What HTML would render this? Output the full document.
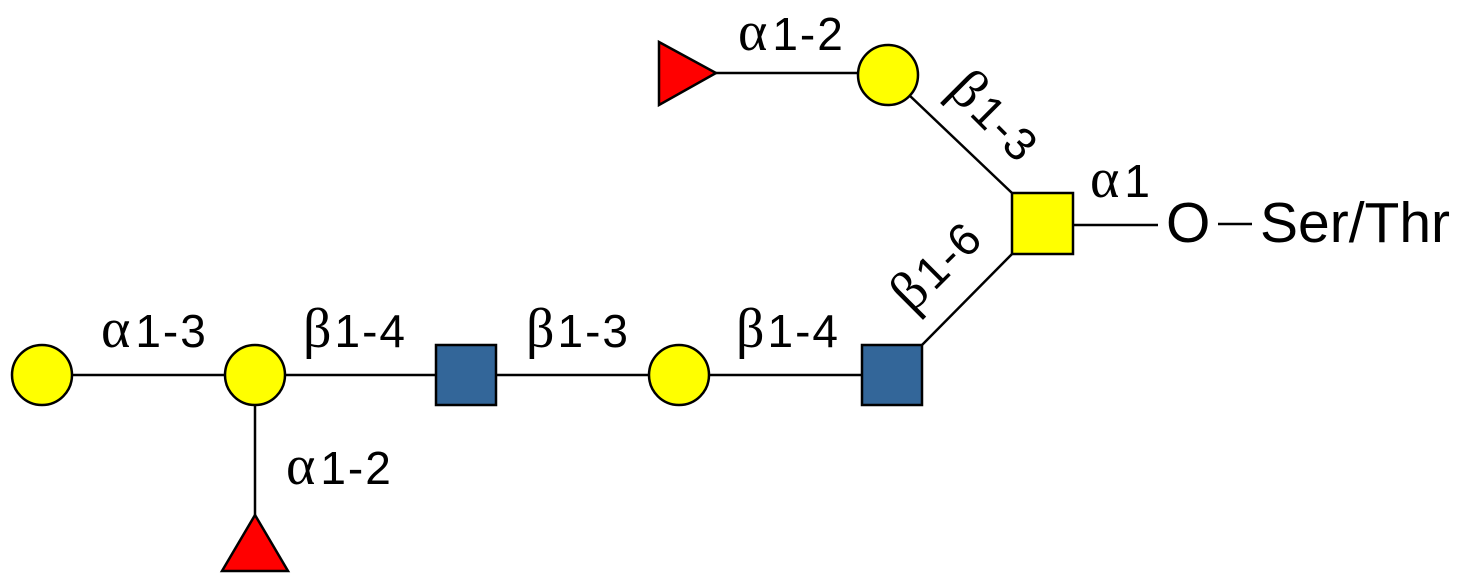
<!DOCTYPE html>
<html><head><meta charset="utf-8"><style>
html,body{margin:0;padding:0;background:#fff;}
svg{display:block;}
text{font-family:"Liberation Sans",sans-serif;font-size:46px;letter-spacing:2px;fill:#000;}
.g{font-family:"Liberation Serif","DejaVu Serif",serif;font-size:56px;letter-spacing:0;}
</style></head><body>
<svg width="1463" height="581" viewBox="0 0 1463 581" xmlns="http://www.w3.org/2000/svg">
<g stroke="#000" stroke-width="2.5" fill="none">
<line x1="42" y1="375" x2="436" y2="375"/>
<line x1="496" y1="375" x2="862" y2="375"/>
<line x1="255" y1="375" x2="255" y2="520"/>
<line x1="922" y1="345" x2="1012" y2="254"/>
<line x1="888" y1="75" x2="1012" y2="193"/>
<line x1="716" y1="73" x2="860" y2="73"/>
<line x1="1073" y1="225" x2="1158" y2="225"/>
<line x1="1218" y1="224" x2="1252" y2="224"/>
</g>
<g stroke="#000" stroke-width="2.5">
<circle cx="42" cy="375" r="30" fill="#ffff00"/>
<circle cx="255" cy="375" r="30" fill="#ffff00"/>
<circle cx="679" cy="375" r="30" fill="#ffff00"/>
<circle cx="888" cy="75" r="30" fill="#ffff00"/>
<rect x="436" y="345" width="60" height="60" fill="#336699"/>
<rect x="862" y="345" width="60" height="60" fill="#336699"/>
<rect x="1012" y="193" width="61" height="61" fill="#ffff00"/>
<polygon points="659,42 659,105 716,73" fill="#ff0000"/>
<polygon points="255,515 222,571 288,571" fill="#ff0000"/>
</g>
<text x="101" y="347"><tspan class="g">α</tspan><tspan dx="5">1-3</tspan></text>
<text x="303" y="347"><tspan class="g">β</tspan><tspan dx="3">1-4</tspan></text>
<text x="526" y="347"><tspan class="g">β</tspan><tspan dx="3">1-3</tspan></text>
<text x="736" y="347"><tspan class="g">β</tspan><tspan dx="3">1-4</tspan></text>
<text x="286" y="484"><tspan class="g">α</tspan><tspan dx="5">1-2</tspan></text>
<text x="738" y="50"><tspan class="g">α</tspan><tspan dx="5">1-2</tspan></text>
<text x="1090" y="197"><tspan class="g">α</tspan><tspan dx="5">1</tspan></text>
<text transform="translate(946,92) rotate(45)"><tspan class="g">β</tspan><tspan dx="3">1-3</tspan></text>
<text transform="translate(912,314) rotate(-45)"><tspan class="g">β</tspan><tspan dx="3">1-6</tspan></text>
<text x="1166" y="242" style="font-size:57px;letter-spacing:0">O</text>
<text x="1260" y="242" style="font-size:57px;letter-spacing:0">Ser/Thr</text>
</svg>
</body></html>
